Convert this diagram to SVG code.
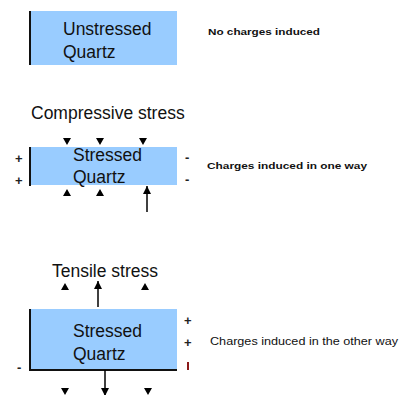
<svg xmlns="http://www.w3.org/2000/svg" width="406" height="395" viewBox="0 0 406 395">
<defs>
<marker id="ah" viewBox="0 0 8 8" refX="8" refY="4" markerWidth="8" markerHeight="8" markerUnits="userSpaceOnUse" orient="auto">
<path d="M0,0 L8,4 L0,8 Z" fill="#000"/>
</marker>
</defs>
<style>
.box{fill:#99ccff;}
.edge{stroke:#111;stroke-width:2;fill:none;}
.big{font-family:"Liberation Sans",Arial,sans-serif;font-size:17.5px;fill:#111;}
.note{font-family:"Liberation Sans",Arial,sans-serif;font-size:9.5px;font-weight:bold;fill:#111;}
.note2{font-family:"Liberation Sans",Arial,sans-serif;font-size:10px;fill:#111;}
.sign{font-family:"Liberation Sans",Arial,sans-serif;font-size:13px;font-weight:bold;fill:#222;}
.tri{fill:#000;}
.conn{stroke:#000;stroke-width:1.5;fill:none;}
</style>
<g id="unstressed">
<rect class="box" x="29" y="11" width="148" height="54"/>
<line class="edge" x1="30" y1="11" x2="30" y2="65"/>
<text class="big" x="63" y="35">Unstressed</text>
<text class="big" x="63" y="58">Quartz</text>
</g>
<text id="note1" class="note" x="208" y="35" textLength="112" lengthAdjust="spacingAndGlyphs">No charges induced</text>
<text id="compressive-label" class="big" x="31" y="119" font-size="18">Compressive stress</text>
<g id="compressed">
<rect class="box" x="29" y="147" width="148" height="38"/>
<line class="edge" x1="30" y1="147" x2="30" y2="186"/>
<text class="big" x="73" y="161">Stressed</text>
<text class="big" x="73" y="183">Quartz</text>
<text class="sign" x="15" y="163">+</text>
<text class="sign" x="15" y="185">+</text>
<text class="sign" x="185" y="162">-</text>
<text class="sign" x="185" y="184">-</text>
</g>
<text id="note2" class="note" x="207" y="169" textLength="160" lengthAdjust="spacingAndGlyphs">Charges induced in one way</text>
<text id="tensile-label" class="big" x="52" y="277" font-size="17">Tensile stress</text>
<g id="tensed">
<rect class="box" x="29" y="309" width="148" height="61"/>
<path class="edge" d="M30,309 V370 H177"/>
<text class="big" x="73" y="337">Stressed</text>
<text class="big" x="73" y="360">Quartz</text>
<text class="sign" x="184" y="325">+</text>
<text class="sign" x="184" y="347">+</text>
<line x1="188" y1="362" x2="188" y2="370" stroke="#8b1a1a" stroke-width="2"/>
<text class="sign" x="17" y="372">-</text>
</g>
<text id="note3" class="note2" x="210" y="345" textLength="188" lengthAdjust="spacingAndGlyphs">Charges induced in the other way</text>
<g id="connectors">
<path class="tri" d="M63,138 H71 L67,145 Z M96,138 H104 L100,145 Z M139,138 H147 L143,145 Z"/>
<path class="tri" d="M63,196 H71 L67,189 Z M96,196 H104 L100,189 Z"/>
<line class="conn" x1="147" y1="212" x2="147" y2="186" marker-end="url(#ah)"/>
<path class="tri" d="M61,290 H69 L65,283 Z M141,290 H149 L145,283 Z"/>
<line class="conn" x1="98" y1="307" x2="98" y2="281" marker-end="url(#ah)"/>
<path class="tri" d="M61,388 H69 L65,395 Z M144,388 H152 L148,395 Z"/>
<line class="conn" x1="105" y1="370" x2="105" y2="396" marker-end="url(#ah)"/>
</g>
</svg>
